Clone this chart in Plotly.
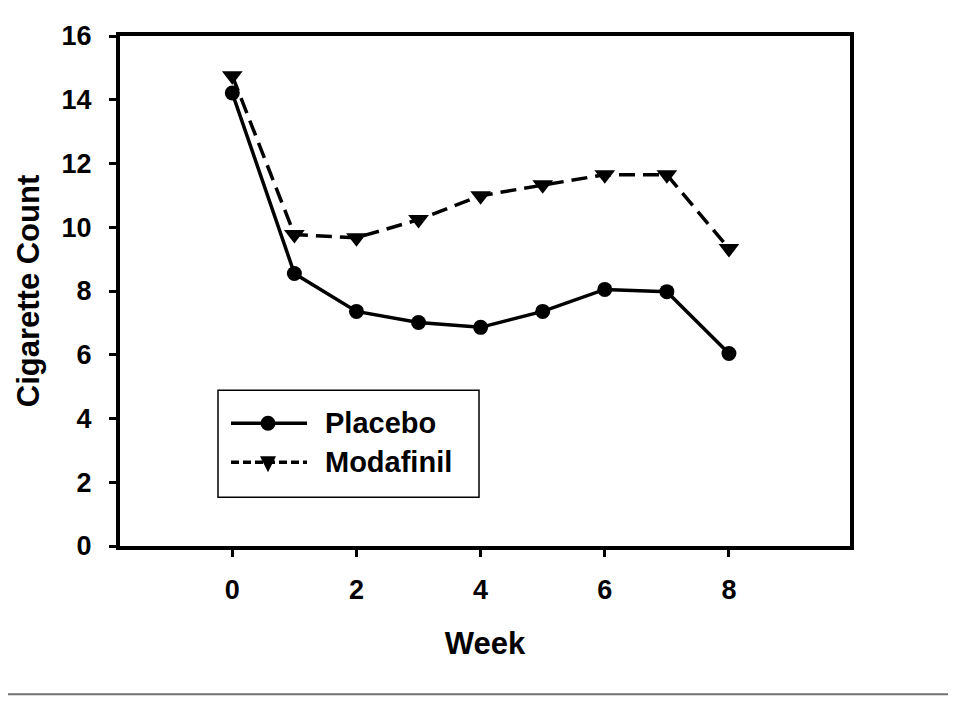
import plotly.graph_objects as go

weeks = [0, 1, 2, 3, 4, 5, 6, 7, 8]
placebo = [14.21, 8.55, 7.36, 7.01, 6.86, 7.36, 8.05, 7.98, 6.04]
modafinil = [14.75, 9.77, 9.67, 10.24, 10.99, 11.33, 11.65, 11.65, 9.33]
x_ticks = [0, 2, 4, 6, 8]
y_ticks = [0, 2, 4, 6, 8, 10, 12, 14, 16]
series_names = ["Placebo", "Modafinil"]

FONT = "Liberation Sans, Arial, sans-serif"

# page offset (body margin) compensation
OFF = 8
PL, PR, PT, PB = 120, 850, 35.7, 545.7  # plot area in page px


def px(x):
    return (x - PL) / (PR - PL)


def py(y):
    return (PB - y) / (PB - PT)


fig = go.Figure()
fig.add_trace(go.Scatter(
    x=weeks, y=placebo, name=series_names[0], mode="lines+markers",
    line=dict(color="black", width=3.5),
    marker=dict(symbol="circle", size=15, color="black"),
    showlegend=False,
))
fig.add_trace(go.Scatter(
    x=weeks, y=modafinil, name=series_names[1], mode="lines+markers",
    line=dict(color="black", width=3.5, dash="16px,8px"),
    marker=dict(symbol="triangle-down", size=18, color="black"),
    showlegend=False,
))

axis_common = dict(
    showline=True, linecolor="black", linewidth=4, mirror=True,
    ticks="outside", ticklen=7, tickwidth=3, tickcolor="black",
    showgrid=False, zeroline=False,
    tickfont=dict(family=FONT, size=27, color="black", weight="bold"),
)

fig.update_xaxes(
    range=[-1.809, 9.95], tickvals=x_ticks, ticktext=[str(v) for v in x_ticks],
    ticklabelstandoff=10,
    title=dict(text="Week", font=dict(family=FONT, size=31, color="black", weight="bold"), standoff=29),
    **axis_common,
)
fig.update_yaxes(
    range=[0, 16], tickvals=y_ticks, ticktext=[str(v) for v in y_ticks],
    ticklabelstandoff=12,
    title=dict(text="Cigarette Count", font=dict(family=FONT, size=31, color="black", weight="bold"), standoff=14),
    **axis_common,
)

# manual legend (wide samples like the original)
LX0, LX1, LY0, LY1 = 218, 479, 390, 497
SX0, SX1, SMX = 231, 307, 268
ROW_Y = [423, 462]
tri_w, tri_h = 8, 8
tri = "M {a},{b} L {c},{d} L {e},{f} Z".format(
    a=px(SMX - tri_w), b=py(ROW_Y[1] - tri_h + 2),
    c=px(SMX + tri_w), d=py(ROW_Y[1] - tri_h + 2),
    e=px(SMX), f=py(ROW_Y[1] + tri_h + 2),
)
shapes = [
    dict(type="rect", xref="paper", yref="paper", x0=px(LX0), x1=px(LX1), y0=py(LY1), y1=py(LY0),
         line=dict(color="black", width=1.5), fillcolor="white", layer="below"),
    dict(type="line", xref="paper", yref="paper", x0=px(SX0), x1=px(SX1), y0=py(ROW_Y[0]), y1=py(ROW_Y[0]),
         line=dict(color="black", width=3.5)),
    dict(type="circle", xref="paper", yref="paper", x0=px(SMX - 7.5), x1=px(SMX + 7.5),
         y0=py(ROW_Y[0] + 7.5), y1=py(ROW_Y[0] - 7.5), fillcolor="black", line=dict(color="black", width=0)),
    dict(type="line", xref="paper", yref="paper", x0=px(SX0), x1=px(SX1), y0=py(ROW_Y[1]), y1=py(ROW_Y[1]),
         line=dict(color="black", width=3.5, dash="8px,4px")),
    dict(type="path", xref="paper", yref="paper", path=tri, fillcolor="black", line=dict(color="black", width=0)),
    dict(type="line", xref="paper", yref="paper", x0=px(0), x1=px(948), y0=py(694), y1=py(694),
         line=dict(color="#707070", width=2)),
]
annotations = [
    dict(xref="paper", yref="paper", x=px(323), y=py(yy), xanchor="left", yanchor="middle",
         text=name, showarrow=False, font=dict(family=FONT, size=29, color="black", weight="bold"))
    for name, yy in zip(series_names, ROW_Y)
]

W, H = 965, 704
fig.update_layout(
    width=W, height=H,
    margin=dict(l=PL - OFF, r=W - (PR - OFF), t=PT - OFF, b=H - (PB - OFF), pad=0),
    paper_bgcolor="white", plot_bgcolor="white",
    font=dict(family=FONT, size=22, color="black"),
    showlegend=False,
    shapes=shapes,
    annotations=annotations,
)

fig.write_html("out.html")
